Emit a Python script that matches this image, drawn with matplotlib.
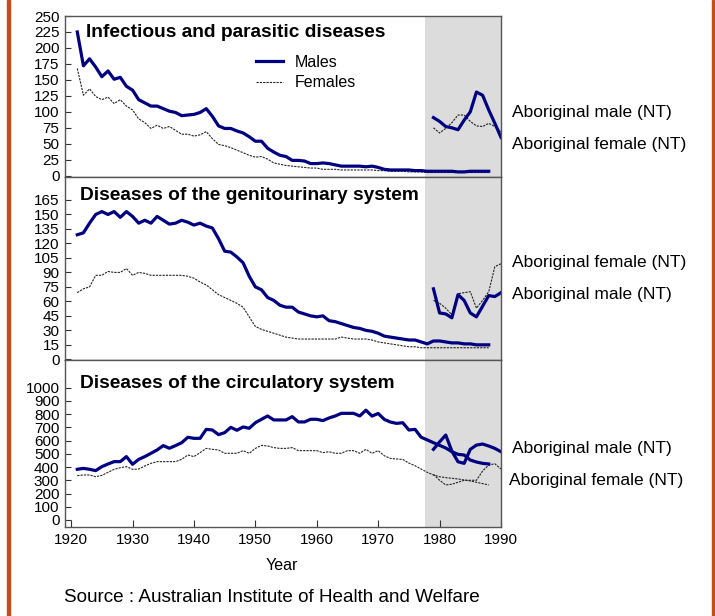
import matplotlib
matplotlib.use("Agg")
import matplotlib.pyplot as plt
import numpy as np
from matplotlib.lines import Line2D
from matplotlib.patches import Rectangle

plt.rcParams["font.family"] = ["Liberation Sans", "DejaVu Sans"]

years = np.arange(1921, 1989)
abo_years = np.arange(1979, 1991)

# Infectious and parasitic diseases
inf_male = [225, 172, 183, 170, 155, 164, 151, 154, 140, 134,
            119, 114, 109, 109, 105, 101, 99, 94, 95, 96,
            99, 105, 93, 78, 74, 74, 70, 67, 61, 54,
            54, 43, 37, 32, 30, 24, 24, 23, 19, 19,
            20, 19, 17, 15, 15, 15, 15, 14, 15, 13,
            10, 9, 9, 9, 9, 8, 8, 7, 7, 7,
            7, 7, 6, 6, 7, 7, 7, 7]
inf_female = [168, 126, 136, 124, 119, 123, 113, 119, 109, 103,
              89, 83, 74, 79, 74, 77, 71, 65, 65, 62,
              64, 69, 58, 49, 47, 44, 40, 36, 32, 29,
              30, 26, 20, 18, 16, 15, 14, 13, 12, 12,
              10, 10, 10, 9, 9, 9, 9, 9, 9, 8,
              8, 7, 7, 7, 6, 6, 6, 5, 5, 5,
              5, 5, 5, 5, 5, 5, 5, 5]
inf_abo_male = [91, 85, 77, 75, 72, 87, 100, 131, 126, 103, 82, 60]
inf_abo_female = [75, 67, 74, 83, 95, 95, 85, 78, 77, 82, 77, 69]

# Diseases of the genitourinary system
gen_male = [129, 131, 141, 150, 153, 150, 153, 147, 153, 148,
            141, 144, 141, 148, 144, 140, 141, 144, 142, 139,
            141, 138, 136, 125, 112, 111, 106, 100, 86, 75,
            72, 64, 61, 56, 54, 54, 49, 47, 45, 44,
            45, 40, 39, 37, 35, 33, 32, 30, 29, 27,
            24, 23, 22, 21, 20, 20, 18, 16, 19, 19,
            18, 17, 17, 16, 16, 15, 15, 15]
gen_female = [69, 73, 75, 87, 87, 91, 90, 90, 94, 87,
              90, 89, 87, 87, 87, 87, 87, 87, 86, 84,
              80, 77, 72, 67, 64, 61, 58, 54, 44, 34,
              31, 29, 27, 25, 23, 22, 21, 21, 21, 21,
              21, 21, 21, 23, 22, 21, 21, 21, 20, 18,
              17, 16, 15, 14, 13, 13, 12, 12, 12, 12,
              12, 12, 12, 12, 12, 12, 12, 12]
gen_abo_male = [73, 48, 47, 43, 67, 61, 48, 44, 55, 66, 65, 69]
gen_abo_female = [61, 58, 53, 46, 68, 69, 70, 53, 61, 70, 96, 99]

# Diseases of the circulatory system
cir_male = [383, 390, 383, 373, 403, 423, 441, 441, 479, 421,
            458, 479, 504, 529, 562, 542, 562, 584, 625, 617,
            617, 685, 680, 645, 660, 700, 678, 703, 693, 735,
            761, 786, 756, 756, 756, 781, 741, 741, 761, 761,
            751, 771, 786, 806, 806, 806, 786, 830, 785, 805,
            760, 740, 730, 735, 680, 685, 625, 605, 584, 564,
            544, 516, 496, 491, 453, 438, 428, 423]
cir_female = [335, 340, 340, 327, 337, 360, 383, 395, 403, 383,
              385, 408, 428, 441, 441, 441, 441, 458, 491, 479,
              509, 541, 534, 529, 504, 504, 504, 524, 504, 541,
              564, 559, 547, 541, 541, 547, 524, 524, 524, 524,
              509, 516, 504, 504, 524, 524, 504, 534, 504, 524,
              485, 465, 461, 458, 430, 410, 385, 360, 340, 327,
              320, 315, 310, 302, 295, 285, 275, 265]
cir_abo_male = [534, 590, 642, 520, 440, 428, 534, 566, 574, 559, 541, 516]
cir_abo_female = [345, 300, 265, 270, 285, 300, 300, 300, 370, 415, 425, 385]

titles = ["Infectious and parasitic diseases",
          "Diseases of the genitourinary system",
          "Diseases of the circulatory system"]

male_col = "#000080"
spine_col = "#555555"
W, H = 715, 616

fig = plt.figure(figsize=(7.15, 6.16), dpi=100)

def px_axes(top, bottom):
    return fig.add_axes([65 / W, 1 - bottom / H, (501 - 65) / W, (bottom - top) / H])

ax1 = px_axes(16, 177)
ax2 = px_axes(177, 360)
ax3 = px_axes(360, 527)

panels = [
    (ax1, inf_male, inf_female, inf_abo_male, inf_abo_female, (-2, 250), np.arange(0, 251, 25)),
    (ax2, gen_male, gen_female, gen_abo_male, gen_abo_female, (-0.7, 188.8), np.arange(0, 166, 15)),
    (ax3, cir_male, cir_female, cir_abo_male, cir_abo_female, (-53, 1209), np.arange(0, 1001, 100)),
]
title_pos = [(0.048, 0.90), (0.034, 0.90), (0.034, 0.862)]

for i, (ax, m, f, am, af, ylim, yt) in enumerate(panels):
    ax.axvspan(1977.7, 1990, color="#dcdcdc", zorder=0, lw=0)
    ax.plot(years, f, color="#222222", lw=0.8, ls=(0, (2, 1)))
    ax.plot(abo_years, af, color="#222222", lw=0.8, ls=(0, (2, 1)))
    ax.plot(years, m, color=male_col, lw=2.3)
    ax.plot(abo_years, am, color=male_col, lw=2.3)
    ax.set_xlim(1919, 1990)
    ax.set_ylim(*ylim)
    ax.set_yticks(yt)
    ax.tick_params(axis="y", direction="in", length=4, width=0.8, labelsize=11,
                   pad=4, colors="#333333", labelcolor="black")
    for s in ax.spines.values():
        s.set_color(spine_col)
        s.set_linewidth(1.0)
    tx, ty = title_pos[i]
    ax.text(tx, ty, titles[i], transform=ax.transAxes,
            fontsize=13.8, fontweight="bold", va="center", ha="left")
    if i < 2:
        ax.set_xticks([])

ax3.set_xticks(np.arange(1920, 1991, 10))
ax3.tick_params(axis="x", direction="in", length=5, width=0.8, labelsize=11,
                pad=4, colors="#333333", labelcolor="black")

handles = [Line2D([], [], color=male_col, lw=2.3),
           Line2D([], [], color="#222222", lw=0.8, ls=(0, (2, 1)))]
ax1.legend(handles, ["Males", "Females"], loc="upper left",
           bbox_to_anchor=(0.42, 0.807), frameon=False, fontsize=11.5,
           borderpad=0, handlelength=1.7, handletextpad=0.75, labelspacing=0.33)

def fig_text(x, y, s, **kw):
    fig.text(x / W, 1 - y / H, s, va="center", **kw)

fig_text(512, 113, "Aboriginal male (NT)", fontsize=12.5)
fig_text(512, 144, "Aboriginal female (NT)", fontsize=12.5)
fig_text(512, 263, "Aboriginal female (NT)", fontsize=12.5)
fig_text(512, 295, "Aboriginal male (NT)", fontsize=12.5)
fig_text(512, 449, "Aboriginal male (NT)", fontsize=12.5)
fig_text(509, 481, "Aboriginal female (NT)", fontsize=12.5)
fig_text(282, 565, "Year", fontsize=11.5, ha="center")
fig_text(64, 598, "Source : Australian Institute of Health and Welfare", fontsize=13.6)

border_col = "#c0501a"
fig.patches.append(Rectangle((7 / W, 0), 3 / W, 1, transform=fig.transFigure,
                             color=border_col, zorder=10))
fig.patches.append(Rectangle((712 / W, 0), 2 / W, 1, transform=fig.transFigure,
                             color=border_col, zorder=10))

fig.savefig("out.png", dpi=100)
